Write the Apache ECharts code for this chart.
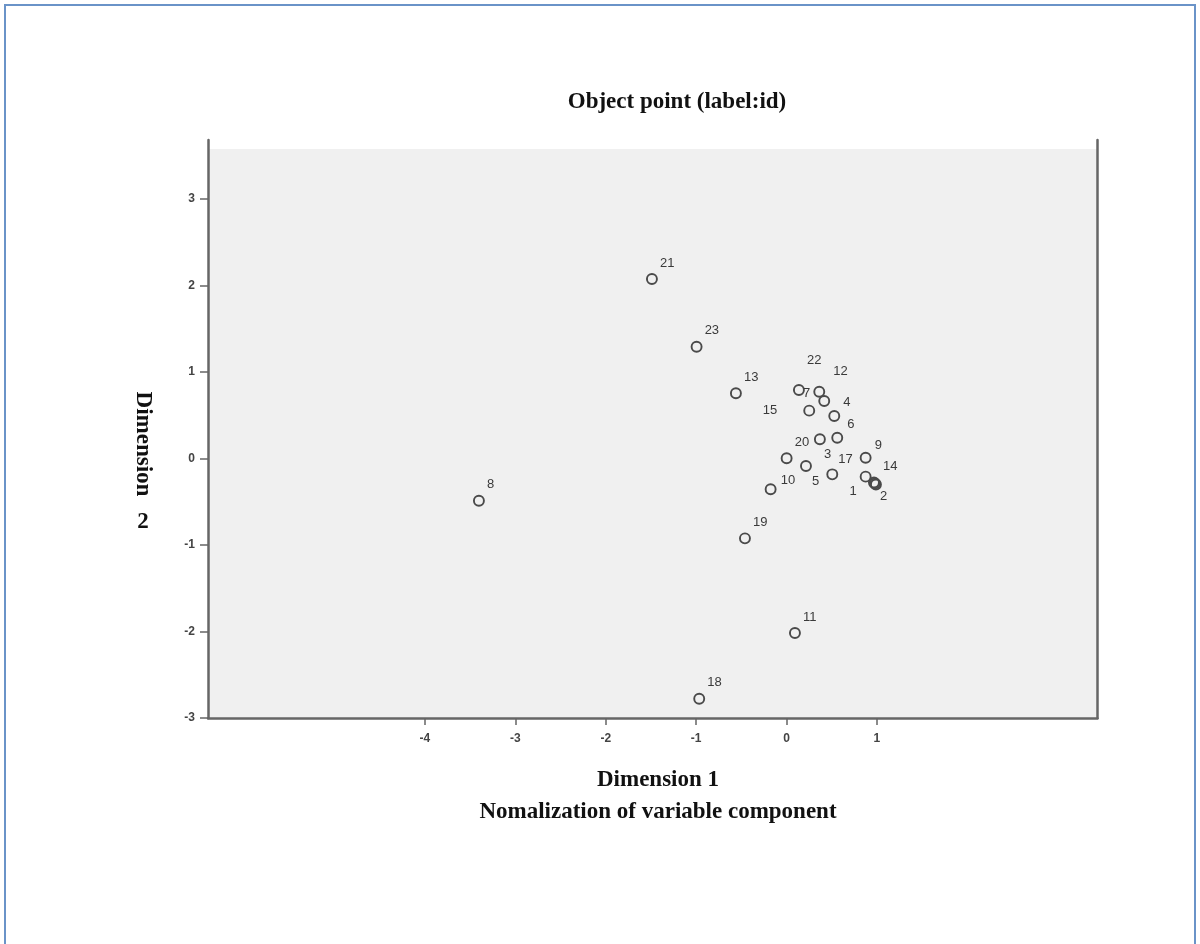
<!DOCTYPE html>
<html>
<head>
<meta charset="utf-8">
<script src="https://cdn.jsdelivr.net/npm/echarts@6/dist/echarts.min.js"></script>
<style>
html,body{margin:0;padding:0;background:#fff;}
#chart{width:1200px;height:944px;}
</style>
</head>
<body>
<div id="chart"></div>
<script>
// ---- data ----
const ids = ['1','2','3','4','5','6','7','8','9','10','11','12','13','14','15','16','17','18','19','20','21','22','23'];
const dim1 = [0.875, 0.989, 0.369, 0.528, 0.215, 0.561, 0.362, -3.403, 0.875, -0.176, 0.093, 0.417, -0.560, 0.967, 0.251, 0.978, 0.506, -0.966, -0.460, 0.001, -1.489, 0.137, -0.995];
const dim2 = [-0.210, -0.301, 0.222, 0.491, -0.087, 0.240, 0.772, -0.488, 0.009, -0.356, -2.017, 0.665, 0.754, -0.277, 0.553, -0.289, -0.183, -2.777, -0.923, 0.002, 2.075, 0.792, 1.292];
const xTicks = [-4, -3, -2, -1, 0, 1];
const yTicks = [-3, -2, -1, 0, 1, 2, 3];
const titleText = 'Object point (label:id)';
const xName1 = 'Dimension 1';
const xName2 = 'Nomalization of variable component';
const yNameA = 'Dimension';
const yNameB = '2';

// ---- label placement (style only): [dx, dy] from the point centre ----
const defaultLabel = {align: 'left', d: [9, -15]};
const labelStyle = {
  '1':  {align: 'right', d: [-8, 16]},
  '2':  {align: 'left', d: [5, 13]},
  '3':  {align: 'left', d: [5, 16]},
  '4':  {align: 'left', d: [10, -13]},
  '5':  {align: 'left', d: [7, 16]},
  '6':  {align: 'left', d: [11, -12]},
  '7':  {align: 'right', d: [-8, 3]},
  '9':  {align: 'left', d: [10, -11]},
  '10': {align: 'left', d: [11, -8]},
  '12': {align: 'left', d: [10, -29]},
  '14': {align: 'left', d: [10, -15]},
  '15': {align: 'right', d: [-31, 1]},
  '16': {hide: true},
  '17': {align: 'left', d: [7, -14]},
  '22': {align: 'left', d: [9, -29]}
};
const symbolSize = 10;

const points = ids.map((id, i) => {
  const s = labelStyle[id] || defaultLabel;
  const h = symbolSize / 2;
  return {
    value: [dim1[i], dim2[i]],
    name: id,
    label: s.hide ? {show: false} : {show: true, position: [h + s.d[0], h + s.d[1]], align: s.align, verticalAlign: 'middle'}
  };
});

const xMin = -6.4, xMax = 3.44, yMin = -3, yMax = 3.682, yPlotTop = 3.578;
const serif = '"Liberation Serif", "DejaVu Serif", serif';
const sans = 'Arial, "Liberation Sans", sans-serif';

const chart = echarts.init(document.getElementById('chart'), null, {renderer: 'canvas'});
chart.setOption({
  animation: false,
  backgroundColor: '#ffffff',
  grid: {left: 208, right: 102.5, top: 140, bottom: 226, containLabel: false},
  xAxis: {
    type: 'value', min: xMin, max: xMax, z: 10,
    splitLine: {show: false},
    axisLine: {show: true, onZero: false, lineStyle: {color: '#666', width: 2.5}},
    axisTick: {show: true, length: 7, customValues: xTicks, lineStyle: {color: '#666', width: 1.5}},
    axisLabel: {customValues: xTicks, color: '#444', fontFamily: sans, fontSize: 12, fontWeight: 'bold', margin: 15}
  },
  yAxis: [{
    type: 'value', min: yMin, max: yMax, z: 10,
    splitLine: {show: false},
    axisLine: {show: true, onZero: false, lineStyle: {color: '#666', width: 2.5}},
    axisTick: {show: true, length: 8, customValues: yTicks, lineStyle: {color: '#666', width: 1.5}},
    axisLabel: {customValues: yTicks, color: '#444', fontFamily: sans, fontSize: 12, fontWeight: 'bold', margin: 13}
  }, {
    type: 'value', min: yMin, max: yMax, position: 'right', z: 10,
    splitLine: {show: false},
    axisLine: {show: true, onZero: false, lineStyle: {color: '#666', width: 2.5}},
    axisTick: {show: false}, axisLabel: {show: false}
  }],
  series: [{
    type: 'scatter',
    yAxisIndex: 0,
    data: points,
    symbol: 'circle',
    symbolSize: symbolSize,
    itemStyle: {color: 'rgba(0,0,0,0)', borderColor: '#4a4a4a', borderWidth: 1.9, opacity: 1},
    label: {
      show: true,
      formatter: p => p.name,
      color: '#3a3a3a',
      fontFamily: sans,
      fontSize: 13
    },
    emphasis: {disabled: true},
    markArea: {
      silent: true,
      itemStyle: {color: '#f0f0f0'},
      label: {show: false},
      data: [[{coord: [xMin, yMin]}, {coord: [xMax, yPlotTop]}]]
    },
    z: 3
  }],
  graphic: [
    {type: 'rect', shape: {x: 5, y: 5, width: 1190, height: 960}, style: {fill: 'none', stroke: '#6a93c8', lineWidth: 2}, z: 100},
    {type: 'text', x: 677, y: 102, style: {text: titleText, font: 'bold 23px ' + serif, fill: '#111', textAlign: 'center', textVerticalAlign: 'middle'}},
    {type: 'text', x: 658, y: 780, style: {text: xName1, font: 'bold 23px ' + serif, fill: '#111', textAlign: 'center', textVerticalAlign: 'middle'}},
    {type: 'text', x: 658, y: 812, style: {text: xName2, font: 'bold 23px ' + serif, fill: '#111', textAlign: 'center', textVerticalAlign: 'middle'}},
    {type: 'text', x: 143, y: 444, rotation: -Math.PI / 2, style: {text: yNameA, font: 'bold 23px ' + serif, fill: '#111', textAlign: 'center', textVerticalAlign: 'middle'}},
    {type: 'text', x: 143, y: 522, style: {text: yNameB, font: 'bold 23px ' + serif, fill: '#111', textAlign: 'center', textVerticalAlign: 'middle'}}
  ]
});
</script>
</body>
</html>
